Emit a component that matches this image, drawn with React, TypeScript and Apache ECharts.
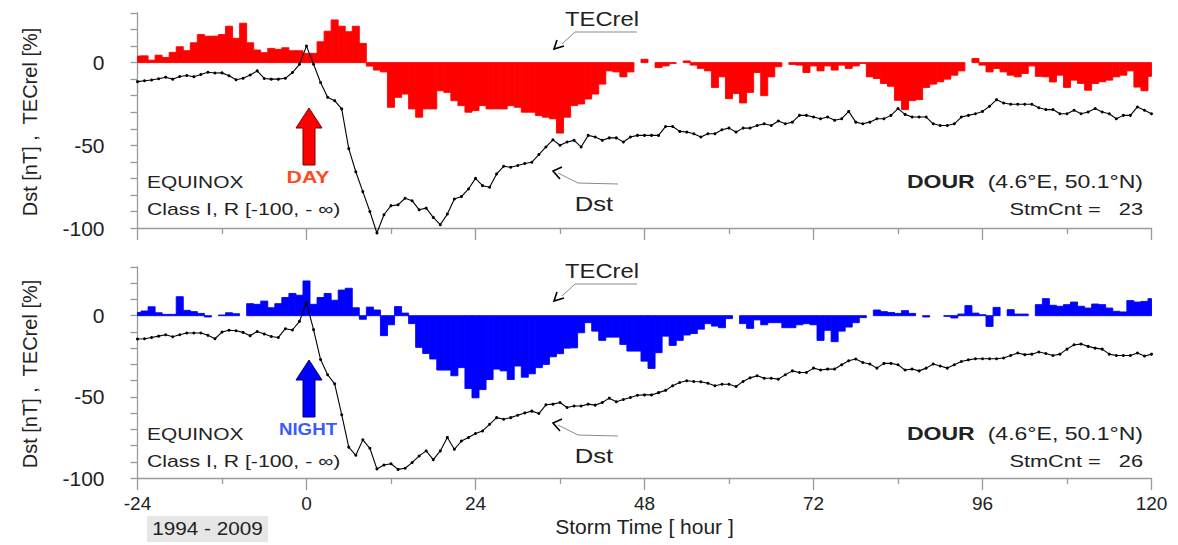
import React, { useEffect, useRef } from "react";
import * as echarts from "echarts";

// Storm time (hours), one value per hour from -24 to 120
const hours: number[] = [];
for (let h = -24; h <= 120; h++) hours.push(h);

// Tick labels
const xTickLabels = ["-24", "0", "24", "48", "72", "96", "120"];
const yTickLabels = ["0", "-50", "-100"];

// DAY panel: TECrel [%] (red bars)
const dayTec = [
  4, 4.1, 1.5, 4.5, 3.1, 6.2, 9.6, 7.2, 12, 17, 16, 16, 17, 22, 14.7, 23.8, 12, 7.6, 6, 8.6, 8, 9, 7.2, 7.2,
  5.6, 5.6, 12.6, 19, 25.8, 22, 18.7, 22, 11.6, -2.1, -4.5, -5.6,
  -27, -21, -19, -28, -33, -28, -28, -17, -18, -23, -26, -30,
  -29, -26, -28, -28, -28, -26, -27, -30, -30, -32, -33, -34,
  -42.6, -33, -26, -25, -22, -19, -13, -5, -5.6, -8.6, -5.6, 0,
  2, 0, -3, -2, -0.5, 0, 1, -1.5, -3.5, -5, -15, -8.6,
  -21.8, -18.7, -24.4, -18, -6, -20, -8.6, -2.5, 0, -1.1, -1.5, -6,
  -2, -5, -2, -4.5, -1.5, -3.5, -2, -0.5, -8.6, -9.6, -12.6, -14.3,
  -22.8, -28.4, -23, -22.4, -15, -13, -11.6, -10, -7.6, -5, 0, 2.5,
  -1.5, -5.6, -3.6, -5.6, -7.6, -8.6, -6.6, -2, -8.3, -8.6, -11.7, -7.6,
  -15, -10.6, -12.6, -16.7, -12.6, -11.6, -10.6, -8.6, -7.6, -5, -14.8, -17,
  -8.3,
];

// DAY panel: Dst [nT]
const dayDst = [
  -11.5, -11, -10.5, -9.8, -8.8, -10, -8.4, -7.8, -8.5, -7.2, -5.8, -6.3, -6.2, -8, -10.4, -9.5, -7.5, -5, -9.6, -10, -10, -9.5, -6, -1,
  10, -1, -12, -21, -23, -28, -52, -66, -78, -90, -103, -92,
  -86.5, -86, -82, -83.5, -89, -88, -93.6, -98, -91.6, -82.5, -81, -76.4,
  -70, -74.4, -75.4, -67.3, -62.7, -63.3, -62.2, -61, -60.2, -55.6, -51, -46.7,
  -50, -48, -47, -51, -44, -45, -47, -45.5, -45.5, -48, -45, -44,
  -44, -44, -44, -38.6, -38.6, -41.6, -42, -43, -45, -43, -43, -40.6,
  -39.6, -42, -39.6, -39.6, -38, -37, -38, -35.3, -37, -36, -31.9, -31.9,
  -32.9, -33.9, -32.9, -34.9, -33.9, -29.5, -36, -37, -36, -33.9, -33.9, -31.9,
  -27.8, -31.3, -32.9, -32.9, -32.9, -37, -38, -38, -37, -32.9, -31.9, -30.9,
  -29.5, -26.4, -22.4, -24.4, -25.2, -25.2, -25.2, -25.2, -27.3, -28.4, -28.4, -30.9,
  -30.9, -28.8, -30.9, -29.9, -27.8, -29.9, -30.9, -33.9, -31.9, -31.9, -26.8, -28.8,
  -30.9,
];

// NIGHT panel: TECrel [%] (blue bars)
const nightTec = [
  2, 2.9, 5.5, 1.8, 0.8, 0.8, 11.7, 3.3, 2.5, 1.4, -0.8, 0, 0.4, 1.8, 1.2, 0, 7.4, 7, 9, 4.9, 7.4, 11.2, 13.7, 12.6,
  21.4, 7, 11.2, 13.7, 9.5, 15.8, 16.9, 4.9, -2.2, 5.3, 3.5, -12.3,
  -5.6, 5.6, 1.6, -4.9, -19.5, -23.3, -26.7, -33.5, -33.5, -37, -32, -44.9,
  -50.6, -45.5, -39.3, -32.9, -34, -39.3, -31, -37.9, -35.8, -32, -30, -25.3,
  -23.4, -20, -19.8, -10.5, -4.3, -9.5, -15.2, -13.2, -13.2, -17.7, -21.8, -21.8,
  -28, -32.5, -22.8, -12.6, -18.3, -15.2, -11.9, -11, -8.3, -4.9, -6.4, -7.4,
  -1.8, 0, -4.9, -7.8, -2.6, -5.6, -4.3, -4.3, -7.4, -7.4, -5.6, -4.9,
  -5.6, -15.2, -9, -16, -9.5, -7, -4.3, -1.2, 0, 3.5, 2.5, 2,
  1.4, 3.1, 1.4, 0, -0.8, 0, 0, -0.4, -1.4, 1, 6.2, 1.6,
  0.6, -6.6, 5.1, 0, 3.7, 1, 1, 0, 6.8, 10.5, 6.4, 5.8,
  6.8, 8.4, 5.8, 4.7, 7.2, 6.8, 4.7, 2.7, 2.3, 9.3, 8.4, 8.8,
  10.5,
];

// NIGHT panel: Dst [nT]
const nightDst = [
  -14.4, -14.2, -13.4, -12.6, -11.7, -13, -11.7, -10.7, -10.7, -10.7, -12.1, -14.2, -10.1, -9, -9.3, -10.3, -12.3, -9.7, -11.3, -12.8, -13.4, -8, -8.8, -3.5,
  8, -8.6, -27, -36.4, -42, -61, -81, -86, -76.5, -81.7, -94.4, -92,
  -91.2, -94.7, -94, -90.5, -86.4, -83.3, -88.7, -83.3, -75, -82.3, -77.2, -75.1,
  -72.6, -71, -66.9, -62.8, -63.8, -62.8, -61.3, -59.9, -58.8, -60.3, -54.9, -54.5,
  -53.5, -56.6, -55.6, -55.6, -54.5, -55.1, -53.5, -50.8, -53, -51.6, -50.4, -49,
  -48.8, -48.8, -47.4, -46, -43.2, -41.2, -40.1, -40.5, -40.7, -41.6, -43.2, -42.2,
  -42.2, -43.6, -40.5, -38.3, -37, -38.5, -38.5, -39.1, -36.4, -34, -35, -35,
  -32.3, -33.5, -32.9, -32.9, -30.2, -27.8, -26.7, -28.8, -29.8, -32.3, -29.4, -29.4,
  -30.2, -33.5, -32.9, -34, -32.3, -29.8, -31, -32.3, -30.2, -28.2, -27.2, -26.5,
  -26.5, -26.5, -26.5, -26.1, -24.5, -23, -24, -23.7, -22.4, -23.3, -24.5, -23.7,
  -20.6, -17.9, -17.5, -18.9, -20, -20.6, -23.7, -24.5, -24.5, -24.5, -23, -24.9,
  -23.7,
];

const FONT = "'Liberation Sans', Arial, sans-serif";
const NARROW = "'Liberation Sans Narrow', 'Liberation Sans', Arial, sans-serif";
const AXIS_GRAY = "#9a9a9a";
const TEXT = "#222";

function pairs(vals: number[]) {
  return hours.map((h, i) => [h, vals[i]]);
}

function barSeries(idx: number, vals: number[], color: string, name: string) {
  return {
    type: "custom",
    name,
    xAxisIndex: idx,
    yAxisIndex: idx,
    silent: true,
    data: pairs(vals),
    encode: { x: 0, y: 1 },
    renderItem: (params: any, api: any) => {
      const h = api.value(0);
      const v = api.value(1);
      if (!v) return null;
      const p0 = api.coord([h - 0.5, 0]);
      const p1 = api.coord([h + 0.5, v]);
      const cs = params.coordSys;
      const shape = echarts.graphic.clipRectByRect(
        {
          x: p0[0],
          y: Math.min(p0[1], p1[1]),
          width: p1[0] - p0[0],
          height: Math.abs(p1[1] - p0[1]),
        },
        { x: cs.x, y: cs.y, width: cs.width, height: cs.height }
      );
      return shape
        ? { type: "rect", shape, style: { fill: color, stroke: color, lineWidth: 0.9 } }
        : null;
    },
    z: 2,
  };
}

function dstSeries(idx: number, vals: number[]) {
  return {
    type: "line",
    name: "Dst",
    xAxisIndex: idx,
    yAxisIndex: idx,
    data: pairs(vals),
    symbol: "circle",
    symbolSize: 3,
    showSymbol: true,
    clip: false,
    itemStyle: { color: "#000" },
    lineStyle: { color: "#000", width: 1.1 },
    z: 3,
  };
}

function xAxis(idx: number, labels: boolean) {
  return {
    type: "value",
    gridIndex: idx,
    min: -24,
    max: 120,
    interval: 24,
    axisLine: { onZero: false, lineStyle: { color: AXIS_GRAY, width: 1.3 } },
    axisTick: { show: true, length: 12, lineStyle: { color: AXIS_GRAY, width: 1.3 } },
    minorTick: { show: true, splitNumber: 2, length: 6, lineStyle: { color: AXIS_GRAY, width: 1.3 } },
    splitLine: { show: false },
    axisLabel: {
      show: labels,
      margin: 16,
      fontSize: 19,
      fontFamily: NARROW,
      color: TEXT,
      formatter: (v: number) => (xTickLabels.includes(String(v)) ? String(v) : ""),
    },
    ...(labels
      ? {
          name: "Storm Time [ hour ]",
          nameLocation: "middle",
          nameGap: 38,
          nameTextStyle: { fontSize: 21, fontFamily: NARROW, color: TEXT },
        }
      : {}),
  };
}

function yAxis(idx: number) {
  return {
    type: "value",
    gridIndex: idx,
    min: -100,
    max: 30,
    interval: 10,
    axisLine: { show: true, onZero: false, lineStyle: { color: AXIS_GRAY, width: 1.3 } },
    axisTick: { show: true, length: 7, lineStyle: { color: AXIS_GRAY, width: 1.3 } },
    splitLine: { show: false },
    axisLabel: {
      margin: 33,
      fontSize: 21,
      fontFamily: FONT,
      color: TEXT,
      formatter: (v: number) => (yTickLabels.includes(String(v)) ? String(v) : ""),
    },
  };
}

function txt(x: number, y: number, text: string, opts: any = {}) {
  const align = opts.align || "left";
  return {
    type: "text",
    x,
    y,
    rotation: opts.rotation || 0,
    scaleX: opts.scaleX || 1,
    z: 10,
    style: {
      text,
      fontSize: opts.fontSize || 17,
      fontFamily: opts.fontFamily || FONT,
      fontWeight: opts.fontWeight || "normal",
      fill: opts.fill || TEXT,
      align,
      textAlign: align,
      verticalAlign: "middle",
      textVerticalAlign: "middle",
      rich: opts.rich,
    },
  };
}

function upArrow(cx: number, top: number, bottom: number, fill: string, stroke: string) {
  const head = 20;
  return {
    type: "polygon",
    z: 10,
    shape: {
      points: [
        [cx, top],
        [cx + 13, top + head],
        [cx + 6, top + head],
        [cx + 6, bottom],
        [cx - 6, bottom],
        [cx - 6, top + head],
        [cx - 13, top + head],
      ],
    },
    style: { fill, stroke, lineWidth: 1 },
  };
}

function leader(points: number[][], head: number[][]) {
  return [
    { type: "polyline", z: 10, shape: { points }, style: { stroke: "#8a8a8a", fill: null, lineWidth: 1 } },
    { type: "polyline", z: 10, shape: { points: head }, style: { stroke: "#000", fill: null, lineWidth: 1.6 } },
  ];
}

function panelGraphics(dy: number, label: string, labelColor: string, labelScale: number, arrowFill: string, arrowStroke: string, count: string) {
  return [
    txt(30, 122 + dy, "Dst [nT] ,  TECrel [%]", { align: "center", rotation: Math.PI / 2, fontSize: 20 }),
    txt(147, 182 + dy, "EQUINOX", { fontSize: 17, scaleX: 1.23 }),
    txt(147, 209 + dy, "Class I, R [-100, - \u221E)", { fontSize: 17, scaleX: 1.25 }),
    txt(308, 177 + dy, label, { align: "center", fontSize: 17, fontWeight: "bold", fill: labelColor, scaleX: labelScale }),
    upArrow(309, 108 + dy, 165 + dy, arrowFill, arrowStroke),
    txt(602, 19 + dy, "TECrel", { align: "center", fontSize: 21, scaleX: 1.13 }),
    txt(594, 204 + dy, "Dst", { align: "center", fontSize: 21, scaleX: 1.22 }),
    ...leader(
      [
        [637, 32 + dy],
        [575, 32 + dy],
        [562, 44 + dy],
      ],
      [
        [557, 40 + dy],
        [554, 49 + dy],
        [564, 46 + dy],
      ]
    ),
    ...leader(
      [
        [618, 184 + dy],
        [578, 183 + dy],
        [558, 173 + dy],
      ],
      [
        [562, 167 + dy],
        [553, 171 + dy],
        [560, 179 + dy],
      ]
    ),
    txt(1143, 181 + dy, "{b|DOUR}  (4.6\u00B0E, 50.1\u00B0N)", {
      align: "right",
      fontSize: 18,
      scaleX: 1.28,
      rich: { b: { fontWeight: "bold", fontSize: 18, fontFamily: FONT, fill: TEXT } },
    }),
    txt(1143, 209 + dy, "StmCnt =   " + count, { align: "right", fontSize: 17, scaleX: 1.28 }),
  ];
}

export default function App() {
  const ref = useRef<HTMLDivElement>(null);
  useEffect(() => {
    if (!ref.current) return;
    const chart = echarts.init(ref.current, undefined, { renderer: "svg" });
    chart.setOption({
      animation: false,
      backgroundColor: "#fff",
      grid: [
        { left: 137.5, top: 13, width: 1014, height: 215 },
        { left: 137.5, top: 267, width: 1014, height: 211 },
      ],
      xAxis: [xAxis(0, false), xAxis(1, true)],
      yAxis: [yAxis(0), yAxis(1)],
      series: [
        barSeries(0, dayTec, "#ff0000", "TECrel day"),
        dstSeries(0, dayDst),
        barSeries(1, nightTec, "#0000ff", "TECrel night"),
        dstSeries(1, nightDst),
      ],
      graphic: [
        ...panelGraphics(0, "DAY", "#ff4a1f", 1.25, "#ff0000", "#7a0000", "23"),
        ...panelGraphics(252, "NIGHT", "#3a5cff", 1.1, "#0000ff", "#000060", "26"),
        { type: "rect", z: 9, shape: { x: 147, y: 516, width: 121, height: 26 }, style: { fill: "#e6e6e6" } },
        txt(207.5, 529, "1994 - 2009", { align: "center", fontSize: 18, fontFamily: NARROW, scaleX: 1.15 }),
      ],
    });
    return () => chart.dispose();
  }, []);
  return <div ref={ref} style={{ position: "fixed", left: 0, top: 0, width: 1178, height: 545 }} />;
}
